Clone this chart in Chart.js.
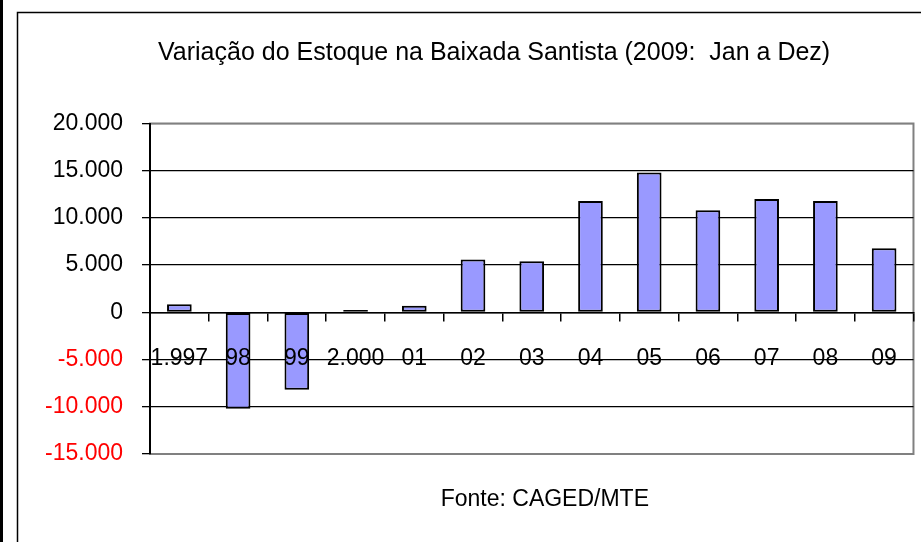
<!DOCTYPE html>
<html>
<head>
<meta charset="utf-8">
<script src="https://cdn.jsdelivr.net/npm/chart.js@4"></script>
<style>
  html, body { margin: 0; padding: 0; background: #fff; }
</style>
</head>
<body>
<canvas id="estoque-chart" width="921" height="542"></canvas>
<script>
// Dados
const anos = ['1.997', '98', '99', '2.000', '01', '02', '03', '04', '05', '06', '07', '08', '09'];
const variacao = [850, -10200, -8200, 250, 700, 5600, 5400, 11800, 14800, 10800, 12000, 11800, 6800];
const eixoY = { min: -15000, max: 20000, passo: 5000 };
const titulo = 'Variação do Estoque na Baixada Santista (2009:  Jan a Dez)';
const fonte = 'Fonte: CAGED/MTE';

const FONT = "'Liberation Sans', Arial, sans-serif";

// 20000 -> "20.000"
function formatar(v) {
  const s = Math.abs(v).toString().replace(/\B(?=(\d{3})+(?!\d))/g, '.');
  return (v < 0 ? '-' : '') + s;
}

// moldura externa, borda da área do gráfico e textos
const moldura = {
  id: 'moldura',
  beforeDraw(chart) {
    const ctx = chart.ctx;
    const area = chart.chartArea;
    ctx.save();
    ctx.fillStyle = '#fff';
    ctx.fillRect(0, 0, chart.width, chart.height);
    ctx.fillStyle = '#000';
    ctx.fillRect(0, 0, 3, chart.height);

    ctx.strokeStyle = '#000';
    ctx.lineWidth = 1.5;
    ctx.beginPath();
    ctx.moveTo(17.5, chart.height);
    ctx.lineTo(17.5, 12.5);
    ctx.lineTo(chart.width, 12.5);
    ctx.stroke();

    ctx.strokeStyle = '#808080';
    ctx.lineWidth = 2;
    ctx.strokeRect(area.left, area.top, area.right - area.left, area.bottom - area.top);

    ctx.fillStyle = '#000';
    ctx.textBaseline = 'alphabetic';
    ctx.font = `25px ${FONT}`;
    ctx.textAlign = 'left';
    ctx.fillText(titulo, 158, 59.5);
    ctx.font = `23px ${FONT}`;
    ctx.textAlign = 'right';
    ctx.fillText(fonte, 649, 506);
    ctx.restore();
  }
};

const ctx = document.getElementById('estoque-chart');
new Chart(ctx, {
  type: 'bar',
  data: {
    labels: anos,
    datasets: [{
      data: variacao,
      backgroundColor: '#9999FF',
      borderColor: '#000',
      borderWidth: 2,
      borderSkipped: false,
      barPercentage: 0.42,
      categoryPercentage: 1
    }]
  },
  options: {
    responsive: false,
    animation: false,
    devicePixelRatio: 1,
    layout: { padding: { left: 0, top: 123.5, right: 2.5, bottom: 88 } },
    plugins: {
      legend: { display: false },
      tooltip: { enabled: false }
    },
    scales: {
      x: {
        type: 'category',
        position: { y: 0 },
        grid: { drawOnChartArea: false, offset: true, tickLength: 8, color: '#000', lineWidth: 1.5 },
        border: { color: '#000', width: 1.5 },
        ticks: {
          z: 1, // rótulos por cima das barras
          font: { family: FONT, size: 23 },
          color: '#000',
          padding: 24,
          maxRotation: 0,
          autoSkip: false
        }
      },
      y: {
        min: eixoY.min,
        max: eixoY.max,
        afterFit(scale) { scale.width = 150; },
        grid: {
          color: c => (c.tick && (c.tick.value === eixoY.max || c.tick.value === eixoY.min)) ? '#808080' : '#000',
          tickColor: '#000',
          tickLength: 8,
          lineWidth: 1.3
        },
        border: { color: '#000', width: 2 },
        ticks: {
          stepSize: eixoY.passo,
          font: { family: FONT, size: 23 },
          color: c => c.tick.value < 0 ? '#FF0000' : '#000',
          padding: 19,
          callback: v => formatar(v)
        }
      }
    }
  },
  plugins: [moldura]
});
</script>
</body>
</html>
